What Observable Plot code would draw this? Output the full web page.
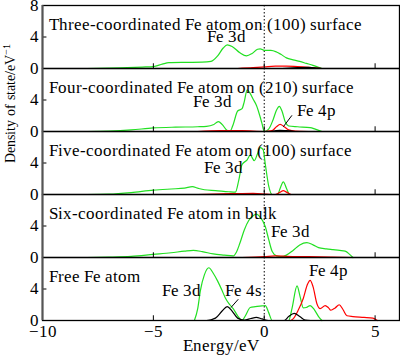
<!DOCTYPE html>
<html>
<head>
<meta charset="utf-8">
<script src="https://cdn.jsdelivr.net/npm/d3@7"></script>
<script src="https://cdn.jsdelivr.net/npm/@observablehq/plot@0.6"></script>
<style>
  @font-face {
    font-family: "RefSerif";
    src: local("Liberation Serif"), local("LiberationSerif"), local("LiberationSerif-Regular"), local("Liberation Serif Regular"), local("Times New Roman"), local("DejaVu Serif"), local("DejaVuSerif");
  }
  html, body { margin: 0; padding: 0; background: #fff; }
  #chart { width: 400px; height: 361px; }
  #chart svg, #chart svg text { font-family: "RefSerif", "Liberation Serif", "Times New Roman", Times, serif !important; }
</style>
</head>
<body>
<div id="chart"></div>
<script>
// ---------- data ----------
const panels = ["p1", "p2", "p3", "p4", "p5"];
const panelTitles = [
  "Three-coordinated Fe atom on (100) surface",
  "Four-coordinated Fe atom on (210) surface",
  "Five-coordinated Fe atom on (100) surface",
  "Six-coordinated Fe atom in bulk",
  "Free Fe atom"
];
const xTicks = [-10, -5, 0, 5];
const xTickLabels = ["\u221210", "\u22125", "0", "5"];

// [energy eV, DOS] points per panel / orbital
const p1_3d = [[-8,0],[-7.5,0.02],[-6.5,0.08],[-5.5,0.18],[-5,0.25],[-4.6,0.55],[-4.3,0.75],[-3.5,0.78],[-2.8,0.8],[-2.4,0.9],[-2.1,1.6],[-1.85,2.6],[-1.67,3.0],[-1.45,2.8],[-1.1,2.0],[-0.8,1.6],[-0.55,1.9],[-0.3,2.45],[-0.18,2.5],[0,2.3],[0.3,2.3],[0.55,2.1],[0.75,1.8],[1.0,1.35],[1.3,1.1],[1.6,0.9],[1.9,0.65],[2.2,0.4],[2.45,0.15],[2.6,0]];
const p1_4p = [[-1.2,0],[-0.5,0.1],[0,0.2],[0.5,0.3],[1.0,0.3],[1.5,0.25],[2.0,0.15],[2.4,0.05],[2.6,0]];
const p1_4s = [[0.8,0],[1.5,0.1],[2.0,0.15],[2.4,0.05],[2.6,0]];

const p2_3d = [[-8,0],[-7,0.05],[-6,0.2],[-5,0.45],[-4,0.55],[-3,0.6],[-2.6,0.65],[-2.3,0.85],[-2.07,1.25],[-1.9,0.9],[-1.7,0.2],[-1.55,0],[-1.4,0.9],[-1.2,2.6],[-1.0,2.9],[-0.9,3.8],[-0.77,5.3],[-0.65,4.9],[-0.5,4.1],[-0.35,3.3],[-0.2,2.0],[-0.1,1.0],[0,0],[0.2,0.3],[0.4,1.5],[0.55,2.7],[0.68,3.2],[0.8,2.6],[0.95,1.2],[1.1,0.7],[1.5,0.6],[2.07,0.5],[2.3,0.3],[2.6,0]];
const p2_4p = [[-3,0],[-2,0.1],[-1,0.1],[0,0],[0.35,0.1],[0.55,0.6],[0.72,0.9],[0.9,0.6],[1.1,0.2],[1.4,0.05],[2,0]];
const p2_4s = [[0.3,0],[0.7,0.15],[1.0,0.1],[1.4,0]];

const p3_3d = [[-8,0],[-7,0.05],[-6,0.25],[-5,0.55],[-4.2,0.7],[-3.6,0.8],[-3.24,1.0],[-3.0,0.8],[-2.7,0.6],[-2.2,0.5],[-1.6,0.35],[-1.3,0.3],[-1.15,1.8],[-1.0,3.8],[-0.77,4.4],[-0.63,5.0],[-0.45,4.3],[-0.3,5.2],[-0.18,5.95],[-0.05,5.7],[0.05,3.8],[0.2,1.1],[0.36,0],[0.6,0],[0.72,0.8],[0.86,1.6],[1.0,0.8],[1.15,0],[2,0]];
const p3_4p = [[-3,0],[-1.5,0.1],[-0.5,0.15],[0.1,0.05],[0.5,0],[0.72,0.3],[0.86,0.5],[1.0,0.3],[1.2,0]];

const p4_3d = [[-8,0],[-7,0.05],[-6,0.15],[-5,0.4],[-4.2,0.6],[-3.6,0.8],[-3.2,0.9],[-2.8,0.75],[-2.3,0.45],[-1.8,0.3],[-1.4,0.2],[-1.25,0.7],[-1.1,1.8],[-0.9,3.5],[-0.7,4.7],[-0.5,5.3],[-0.36,5.5],[-0.2,5.2],[0.05,3.9],[0.2,2.3],[0.36,0.75],[0.55,0.2],[0.75,0.1],[1.0,0.3],[1.3,0.9],[1.6,1.6],[1.92,1.9],[2.2,1.6],[2.45,1.25],[2.8,1.1],[3.1,1.0],[3.4,0.9],[3.65,0.8],[3.85,0.4],[4.0,0]];
const p4_4p = [[-1,0],[0,0.1],[0.5,0.2],[1,0.15],[2,0.1],[3,0.05],[4,0]];

const p5_3d = [[-3.15,0],[-3.0,1.5],[-2.88,3.8],[-2.7,5.8],[-2.5,6.7],[-2.3,6.0],[-2.1,5.0],[-1.9,3.8],[-1.76,2.9],[-1.55,2.0],[-1.4,1.5],[-1.2,0.6],[-1.0,0],[-0.85,0.6],[-0.63,1.65],[-0.4,1.75],[-0.1,1.85],[0.05,1.9],[0.2,1.0],[0.36,0],[1.1,0],[1.25,1.5],[1.48,4.4],[1.62,3.0],[1.76,1.6],[1.9,1.65],[2.07,1.9],[2.25,1.4],[2.45,0.5],[2.6,0]];
const p5_4p = [[1.2,0],[1.3,0.2],[1.53,1.3],[1.76,2.8],[1.95,4.6],[2.07,5.1],[2.2,4.3],[2.38,2.1],[2.52,1.5],[2.75,1.9],[2.9,1.6],[3.0,1.3],[3.2,1.6],[3.38,2.0],[3.55,1.4],[3.73,0.6],[4.0,0.5],[4.5,0.4],[4.9,0.3],[5.1,0]];
const p5_4s = [[-3.2,0],[-2.6,0],[-2.2,0.3],[-1.9,1.2],[-1.67,1.75],[-1.45,1.2],[-1.2,0.3],[-0.9,0.05],[-0.6,0.25],[-0.36,0.4],[-0.1,0.2],[0.2,0],[0.9,0],[1.1,0.5],[1.35,0.9],[1.6,0.5],[1.85,0.05],[2.1,0]];

// annotation labels: [panel, text, x, y]
const labels = [
  ["p1", "Fe 3d", -1.7, 4.1],
  ["p2", "Fe 3d", -2.34, 3.8],
  ["p2", "Fe 4p", 2.35, 2.65],
  ["p3", "Fe 3d", -1.85, 3.4],
  ["p4", "Fe 3d", 1.2, 3.3],
  ["p5", "Fe 3d", -3.74, 3.8],
  ["p5", "Fe 4s", -0.95, 3.8],
  ["p5", "Fe 4p", 2.9, 6.3]
];
// leader lines: [panel, x1, y1, x2, y2]
const leaders = [
  ["p2", 1.25, 2.05, 0.86, 0.6],
  ["p5", -1.17, 2.7, -1.5, 1.65]
];
// y tick labels per panel
const yTickLabels = [["p1", 8], ["p1", 4], ["p1", 0], ["p2", 4], ["p2", 0], ["p3", 4], ["p3", 0], ["p4", 4], ["p4", 0], ["p5", 4], ["p5", 0]];

// ---------- build tables ----------
const series = [
  ["p1", "Fe 3d", p1_3d], ["p1", "Fe 4p", p1_4p], ["p1", "Fe 4s", p1_4s],
  ["p2", "Fe 3d", p2_3d], ["p2", "Fe 4p", p2_4p], ["p2", "Fe 4s", p2_4s],
  ["p3", "Fe 3d", p3_3d], ["p3", "Fe 4p", p3_4p],
  ["p4", "Fe 3d", p4_3d], ["p4", "Fe 4p", p4_4p],
  ["p5", "Fe 3d", p5_3d], ["p5", "Fe 4p", p5_4p], ["p5", "Fe 4s", p5_4s]
];
const rows = series.flatMap(([panel, orb, pts]) =>
  pts.map(([x, y]) => ({panel, orb, key: panel + orb, x, y})));
const titleRows = panels.map((p, i) => ({panel: p, text: panelTitles[i]}));
const labelRows = labels.map(([panel, text, x, y]) => ({panel, text, x, y}));
const leaderRows = leaders.map(([panel, x1, y1, x2, y2]) => ({panel, x1, y1, x2, y2}));
const yTickRows = yTickLabels.map(([panel, v]) => ({panel, v}));
const xTickRows = xTicks.map((v, i) => ({panel: "p5", v, text: xTickLabels[i]}));

const FONT = "RefSerif, Liberation Serif, Times New Roman, serif";
const FS = 17;
const T = {fontFamily: FONT, fontSize: FS, fill: "#000"};

const chart = Plot.plot({
  width: 400,
  height: 361,
  marginLeft: 42,
  marginRight: 1,
  marginTop: 5,
  marginBottom: 41,
  style: {background: "white", overflow: "visible"},
  x: {domain: [-10, 6.1], axis: null},
  y: {domain: [0, 8], axis: null},
  fy: {domain: panels, padding: 0, axis: null},
  color: {domain: ["Fe 3d", "Fe 4p", "Fe 4s"], range: ["#22e022", "#ff0000", "#000000"]},
  marks: [
    Plot.ruleX([0], {strokeDasharray: "1.5,2", stroke: "#000", strokeWidth: 1}),
    Plot.line(rows, {x: "x", y: "y", z: "key", stroke: "orb", fy: "panel", curve: "monotone-x", strokeWidth: 1.2}),
    Plot.ruleX(xTicks, {x: d => d, y1: 0, y2: 0.6, stroke: "#000", strokeWidth: 1}),
    Plot.ruleY([4], {y: d => d, x1: -10, x2: -9.8, stroke: "#000", strokeWidth: 1}),
    Plot.frame({stroke: "#000", strokeWidth: 1.3}),
    Plot.ruleX([-10], {stroke: "#555", strokeWidth: 2}),
    Plot.text(titleRows, {...T, text: "text", fy: "panel", frameAnchor: "top-left", dx: 6, dy: 12, textAnchor: "start"}),
    Plot.text(labelRows, {...T, x: "x", y: "y", text: "text", fy: "panel"}),
    Plot.link(leaderRows, {x1: "x1", y1: "y1", x2: "x2", y2: "y2", fy: "panel", stroke: "#000", strokeWidth: 1}),
    Plot.text(yTickRows, {...T, x: () => -10, y: "v", text: d => String(d.v), fy: "panel", dx: -4, textAnchor: "end"}),
    Plot.text(xTickRows, {...T, x: "v", y: () => 0, text: "text", fy: "panel", dy: 11}),
    Plot.text([{panel: "p5", t: "Energy/eV"}], {...T, text: "t", fy: "panel", frameAnchor: "bottom", dy: 30}),
    Plot.text([{panel: "p3", t: "Density of state/eV"}], {...T, fontSize: 14, text: "t", fy: "panel", frameAnchor: "left", dx: -32, rotate: -90})
  ]
});

// superscript for the y label
chart.querySelectorAll("text").forEach(t => {
  if (t.textContent === "Density of state/eV") {
    const ns = "http://www.w3.org/2000/svg";
    const sup = document.createElementNS(ns, "tspan");
    sup.setAttribute("baseline-shift", "super");
    sup.setAttribute("font-size", "9.5px");
    sup.textContent = "\u22121";
    t.appendChild(sup);
  }
});

document.getElementById("chart").appendChild(chart);
</script>
</body>
</html>
